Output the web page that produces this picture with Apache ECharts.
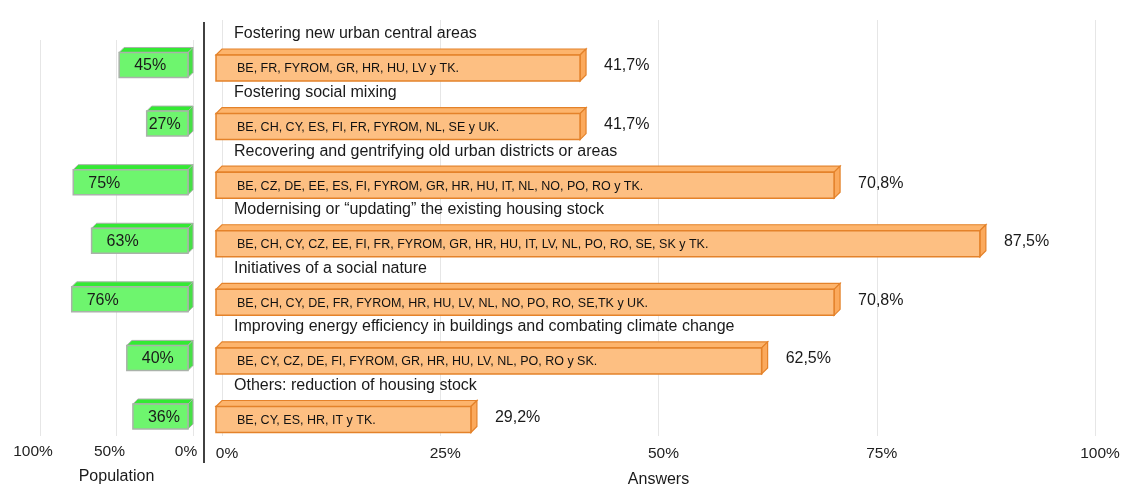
<!DOCTYPE html>
<html><head><meta charset="utf-8">
<script src="https://cdn.jsdelivr.net/npm/echarts@6/dist/echarts.min.js"></script>
<style>html,body{margin:0;padding:0;background:#fff}#c{width:1122px;height:486px}</style>
</head><body><div id="c"></div>
<script>
const categories = [
  'Fostering new urban central areas',
  'Fostering social mixing',
  'Recovering and gentrifying old urban districts or areas',
  'Modernising or \u201cupdating\u201d the existing housing stock',
  'Initiatives of a social nature',
  'Improving energy efficiency in buildings and combating climate change',
  'Others: reduction of housing stock'
];
const countries = [
  'BE, FR, FYROM, GR, HR, HU, LV y TK.',
  'BE, CH, CY, ES, FI, FR, FYROM, NL, SE y UK.',
  'BE, CZ, DE, EE, ES, FI, FYROM, GR, HR, HU, IT, NL, NO, PO, RO y TK.',
  'BE, CH, CY, CZ, EE, FI, FR, FYROM, GR, HR, HU, IT, LV, NL, PO, RO, SE, SK y TK.',
  'BE, CH, CY, DE, FR, FYROM, HR, HU, LV, NL, NO, PO, RO, SE,TK y UK.',
  'BE, CY, CZ, DE, FI, FYROM, GR, HR, HU, LV, NL, PO, RO y SK.',
  'BE, CY, ES, HR, IT y TK.'
];
const answers = [41.7, 41.7, 70.8, 87.5, 70.8, 62.5, 29.2];
const population = [45, 27, 75, 63, 76, 40, 36];
const axisNames = ['Population', 'Answers'];

const FONT = '"Liberation Sans", Arial, sans-serif';
const fmtComma = v => v.toFixed(1).replace('.', ',') + '%';

function renderAnswer(params, api) {
  const v = api.value(0), i = api.value(1);
  const p0 = api.coord([0, i]), p1 = api.coord([v, i]);
  const d = 6, h = 26;
  const cy = p0[1];
  const top = cy - h / 2, bot = cy + h / 2;
  const xl = p0[0] - d, xr = p1[0] - d;
  const stroke = '#e4822a';
  return {type: 'group', children: [
    {type: 'polygon', shape: {points: [[xl, top], [xl + d, top - d], [xr + d, top - d], [xr, top]]},
      style: {fill: '#fdb46c', stroke: stroke, lineWidth: 1.2}},
    {type: 'polygon', shape: {points: [[xr, top], [xr + d, top - d], [xr + d, bot - d], [xr, bot]]},
      style: {fill: '#fba95c', stroke: stroke, lineWidth: 1.2}},
    {type: 'rect', shape: {x: xl, y: top, width: xr - xl, height: h},
      style: {fill: '#fdbf82', stroke: stroke, lineWidth: 1.5}},
    {type: 'text', style: {text: countries[i], x: xl + 21, y: cy + 1, verticalAlign: 'middle',
      font: '12.5px ' + FONT, fill: '#111'}},
    {type: 'text', style: {text: fmtComma(v), x: p1[0] + 18, y: cy - 2, verticalAlign: 'middle',
      font: '16px ' + FONT, fill: '#1a1a1a'}},
    {type: 'text', style: {text: categories[i], x: xl + 18, y: cy - 34, verticalAlign: 'middle',
      font: '16px ' + FONT, fill: '#1a1a1a'}}
  ]};
}

function renderPop(params, api) {
  const v = api.value(0), i = api.value(1);
  const p0 = api.coord([0, i]), p1 = api.coord([v, i]);
  const d = 5, h = 25;
  const cy = p0[1] - 3;
  const top = cy - h / 2, bot = cy + h / 2;
  const xl = p1[0] - d, xr = p0[0] - d;
  const stroke = '#aab2aa';
  const w = xr - xl;
  const off = Math.min(15, Math.max(2, w - 40));
  return {type: 'group', children: [
    {type: 'polygon', shape: {points: [[xl, top], [xl + d, top - d], [xr + d, top - d], [xr, top]]},
      style: {fill: '#33ea33', stroke: stroke, lineWidth: 1}},
    {type: 'polygon', shape: {points: [[xr, top], [xr + d, top - d], [xr + d, bot - d], [xr, bot]]},
      style: {fill: '#46e046', stroke: stroke, lineWidth: 1}},
    {type: 'rect', shape: {x: xl, y: top, width: w, height: h},
      style: {fill: '#6ef56e', stroke: stroke, lineWidth: 1.5}},
    {type: 'text', style: {text: v + '%', x: xl + off, y: cy + 1, verticalAlign: 'middle',
      font: '16px ' + FONT, fill: '#1a1a1a'}}
  ]};
}

const chart = echarts.init(document.getElementById('c'));
const splitLine = {show: true, lineStyle: {color: '#e6e6e6', width: 1}};
const g = (o) => Object.assign({outerBoundsMode: 'none', containLabel: false}, o);
chart.setOption({
  animation: false,
  backgroundColor: '#ffffff',
  textStyle: {fontFamily: FONT},
  grid: [
    g({left: 40, right: 929, top: 40, bottom: 50}),
    g({left: 222, right: 27, top: 20, bottom: 50}),
    g({left: 40, right: 929, top: 38.7, bottom: 37.2}),
    g({left: 222, right: 27, top: 38.7, bottom: 37.2})
  ],
  xAxis: [
    {gridIndex: 0, type: 'value', min: 0, max: 100, interval: 50, inverse: true,
      splitLine: splitLine, axisLine: {show: false}, axisTick: {show: false},
      axisLabel: {formatter: '{value}%', fontSize: 15.5, color: '#222', margin: 8, padding: [0, 14, 0, 0]},
      name: axisNames[0], nameLocation: 'middle', nameGap: 33,
      nameTextStyle: {fontSize: 16, color: '#1a1a1a'}},
    {gridIndex: 1, type: 'value', min: 0, max: 100, interval: 25,
      splitLine: splitLine, axisLine: {show: false}, axisTick: {show: false},
      axisLabel: {formatter: '{value}%', fontSize: 15.5, color: '#222', margin: 10, padding: [0, 0, 0, 10]},
      name: axisNames[1], nameLocation: 'middle', nameGap: 36,
      nameTextStyle: {fontSize: 16, color: '#1a1a1a'}},
    {gridIndex: 2, type: 'value', min: 0, max: 100, inverse: true, show: false},
    {gridIndex: 3, type: 'value', min: 0, max: 100, show: false}
  ],
  yAxis: [
    {gridIndex: 0, type: 'value', show: false},
    {gridIndex: 1, type: 'value', show: false},
    {gridIndex: 2, type: 'category', inverse: true, show: false, data: categories},
    {gridIndex: 3, type: 'category', inverse: true, show: false, data: categories}
  ],
  graphic: [
    {type: 'line', shape: {x1: 204, y1: 22, x2: 204, y2: 463}, style: {stroke: '#111', lineWidth: 1.6}, z: 10}
  ],
  series: [
    {type: 'custom', xAxisIndex: 2, yAxisIndex: 2, clip: false, renderItem: renderPop,
      data: population.map((v, i) => [v, i])},
    {type: 'custom', xAxisIndex: 3, yAxisIndex: 3, clip: false, renderItem: renderAnswer,
      data: answers.map((v, i) => [v, i])}
  ]
});
</script>
</body></html>
